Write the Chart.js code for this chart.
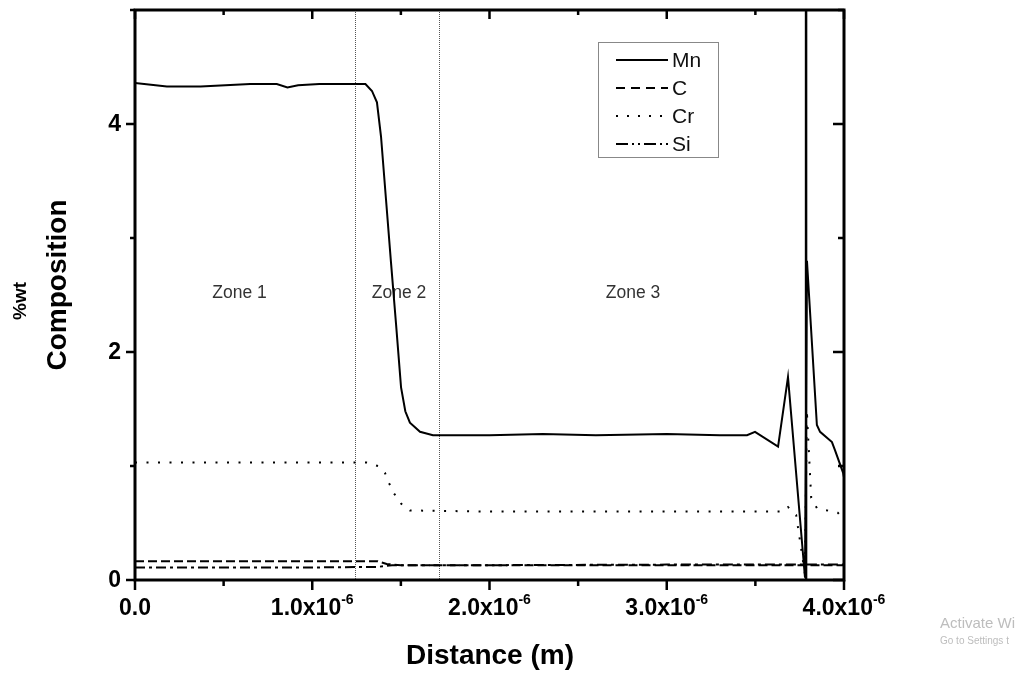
<!DOCTYPE html>
<html>
<head>
<meta charset="utf-8">
<script src="https://cdn.jsdelivr.net/npm/chart.js"></script>
<style>
html,body{margin:0;padding:0;background:#fff;}
#wrap{width:1019px;height:674px;}
</style>
</head>
<body>
<div id="wrap"><canvas id="c" width="1019" height="674"></canvas></div>
<script>
// Distances in micrometres (axis labelled in metres: n.0x10^-6)
const mnX = [0, 0.18, 0.37, 0.65, 0.80, 0.86, 0.92, 1.04, 1.30, 1.337, 1.365, 1.388, 1.416, 1.444, 1.473, 1.501, 1.525, 1.551, 1.608, 1.681, 2.0, 2.3, 2.6, 3.0, 3.3, 3.453, 3.498, 3.628, 3.684, 3.780, 3.791, 3.847, 3.865, 3.932, 3.949, 3.995, 4.0];
const mnY = [4.36, 4.33, 4.33, 4.35, 4.35, 4.32, 4.34, 4.35, 4.35, 4.29, 4.19, 3.89, 3.34, 2.79, 2.24, 1.69, 1.48, 1.38, 1.30, 1.27, 1.27, 1.28, 1.27, 1.28, 1.27, 1.27, 1.30, 1.17, 1.78, 0.02, 2.80, 1.36, 1.30, 1.21, 1.14, 0.94, 0.90];

const cX = [0, 1.0, 1.37, 1.42, 1.50, 2.0, 3.0, 3.7, 4.0];
const cY = [0.165, 0.165, 0.165, 0.14, 0.13, 0.13, 0.13, 0.13, 0.13];

const crX = [0, 0.5, 1.0, 1.306, 1.371, 1.410, 1.433, 1.461, 1.501, 1.551, 2.0, 2.5, 3.0, 3.5, 3.65, 3.684, 3.73, 3.78, 3.79, 3.815, 3.847, 3.965, 4.0];
const crY = [1.03, 1.03, 1.03, 1.03, 1.00, 0.94, 0.85, 0.76, 0.67, 0.61, 0.60, 0.60, 0.60, 0.60, 0.60, 0.64, 0.57, 0.05, 1.49, 0.72, 0.63, 0.59, 0.53];

const siX = [0, 1.0, 1.37, 1.45, 2.0, 3.0, 3.7, 4.0];
const siY = [0.11, 0.11, 0.115, 0.13, 0.13, 0.135, 0.135, 0.135];

const seriesNames = ['Mn', 'C', 'Cr', 'Si'];
const xTickValues = [0, 1, 2, 3, 4];
const xTickLabels = ['0.0', '1.0x10', '2.0x10', '3.0x10', '4.0x10'];
const xTickExp = ['', '-6', '-6', '-6', '-6'];
const yTickValues = [0, 2, 4];
const yTickLabels = ['0', '2', '4'];
const zoneBoundaries = [1.24, 1.715];
const interfaceLine = [3.786];
const zoneNames = ['Zone 1', 'Zone 2', 'Zone 3'];
const zoneLabelX = [0.59, 1.49, 2.81];
const zoneLabelY = [2.52, 2.52, 2.52];

function pts(xs, ys){ return xs.map((x,i)=>({x:x, y:ys[i]})); }

const FONT = '"Liberation Sans", Arial, sans-serif';

const drawPlugin = {
  id: 'custom',
  beforeDatasetsDraw(chart){
    const ctx = chart.ctx, xs = chart.scales.x, ys = chart.scales.y, a = chart.chartArea;
    ctx.save();
    ctx.strokeStyle = '#555';
    ctx.lineWidth = 1;
    ctx.setLineDash([1,1]);
    zoneBoundaries.forEach(v=>{
      const px = Math.round(xs.getPixelForValue(v))+0.5;
      ctx.beginPath(); ctx.moveTo(px, a.top); ctx.lineTo(px, a.bottom); ctx.stroke();
    });
    ctx.setLineDash([]);
    ctx.strokeStyle = '#000';
    ctx.lineWidth = 2.5;
    interfaceLine.forEach(v=>{
      const px = xs.getPixelForValue(v);
      ctx.beginPath(); ctx.moveTo(px, a.top); ctx.lineTo(px, a.bottom); ctx.stroke();
    });
    ctx.fillStyle = '#333';
    ctx.font = '17.5px ' + FONT;
    ctx.textAlign = 'center';
    ctx.textBaseline = 'middle';
    zoneNames.forEach((n,i)=>{
      ctx.fillText(n, xs.getPixelForValue(zoneLabelX[i]), ys.getPixelForValue(zoneLabelY[i]));
    });
    ctx.restore();
  },
  afterDraw(chart){
    const ctx = chart.ctx, xs = chart.scales.x, ys = chart.scales.y, a = chart.chartArea;
    ctx.save();
    ctx.strokeStyle = '#000';
    ctx.lineWidth = 3;
    ctx.setLineDash([]);
    ctx.strokeRect(a.left, a.top, a.right - a.left, a.bottom - a.top);
    ctx.lineWidth = 2.5;
    for (let v = 0; v <= 4.0001; v += 0.5){
      const px = xs.getPixelForValue(v);
      const major = Math.abs(v - Math.round(v)) < 1e-6;
      const L = major ? 10 : 6;
      ctx.beginPath();
      ctx.moveTo(px, a.bottom); ctx.lineTo(px, a.bottom + L);
      ctx.moveTo(px, a.top); ctx.lineTo(px, a.top + (major ? 9 : 5));
      ctx.stroke();
    }
    for (let v = 0; v <= 5.0001; v += 1){
      const py = ys.getPixelForValue(v);
      const major = (Math.round(v) % 2) === 0;
      const L = major ? 9 : 5;
      ctx.beginPath();
      ctx.moveTo(a.left, py); ctx.lineTo(a.left - L, py);
      ctx.moveTo(a.right, py); ctx.lineTo(a.right - (major ? 11 : 6), py);
      ctx.stroke();
    }
    ctx.fillStyle = '#000';
    ctx.textBaseline = 'alphabetic';
    ctx.textAlign = 'left';
    xTickValues.forEach((v,i)=>{
      ctx.font = 'bold 23px ' + FONT;
      const w1 = ctx.measureText(xTickLabels[i]).width;
      ctx.font = 'bold 14px ' + FONT;
      const w2 = xTickExp[i] ? ctx.measureText(xTickExp[i]).width : 0;
      const cx = xs.getPixelForValue(v);
      const x0 = cx - (w1 + w2)/2;
      ctx.font = 'bold 23px ' + FONT;
      ctx.fillText(xTickLabels[i], x0, 615);
      if (xTickExp[i]){
        ctx.font = 'bold 14px ' + FONT;
        ctx.fillText(xTickExp[i], x0 + w1, 604);
      }
    });
    ctx.font = 'bold 23px ' + FONT;
    ctx.textAlign = 'right';
    ctx.textBaseline = 'middle';
    yTickValues.forEach((v,i)=>{
      ctx.fillText(yTickLabels[i], 121, ys.getPixelForValue(v) + 1);
    });
    ctx.textAlign = 'center';
    ctx.textBaseline = 'middle';
    ctx.font = 'bold 28px ' + FONT;
    ctx.fillText('Distance (m)', 490, 656);
    ctx.save();
    ctx.translate(58, 285);
    ctx.rotate(-Math.PI/2);
    ctx.fillText('Composition', 0, 0);
    ctx.restore();
    ctx.save();
    ctx.translate(21, 301);
    ctx.rotate(-Math.PI/2);
    ctx.font = 'bold 19px ' + FONT;
    ctx.fillText('%wt', 0, 0);
    ctx.restore();
    const lx = 598, ly = 42, lw = 120, lh = 115;
    ctx.fillStyle = '#fff';
    ctx.fillRect(lx, ly, lw, lh);
    ctx.strokeStyle = '#888';
    ctx.lineWidth = 1;
    ctx.strokeRect(lx + 0.5, ly + 0.5, lw, lh);
    const rows = [60, 88, 116, 144];
    chart.data.datasets.forEach((ds,i)=>{
      ctx.strokeStyle = '#000';
      ctx.lineWidth = ds.borderWidth;
      ctx.setLineDash(ds.legendDash || []);
      ctx.lineCap = 'butt';
      ctx.beginPath();
      ctx.moveTo(616, rows[i]); ctx.lineTo(668, rows[i]);
      ctx.stroke();
      ctx.setLineDash([]);
      ctx.fillStyle = '#111';
      ctx.font = '21px ' + FONT;
      ctx.textAlign = 'left';
      ctx.textBaseline = 'middle';
      ctx.fillText(ds.label, 672, rows[i] + 1);
    });
    ctx.fillStyle = '#bdbdbd';
    ctx.textAlign = 'left';
    ctx.textBaseline = 'alphabetic';
    ctx.font = '15px ' + FONT;
    ctx.fillText('Activate Wi', 940, 628);
    ctx.font = '10px ' + FONT;
    ctx.fillText('Go to Settings t', 940, 644);
    ctx.restore();
  }
};

new Chart(document.getElementById('c'), {
  type: 'line',
  data: {
    datasets: [
      {label: seriesNames[0], data: pts(mnX, mnY), borderColor:'#000', borderWidth:2, pointRadius:0, tension:0, legendDash: []},
      {label: seriesNames[1], data: pts(cX, cY), borderColor:'#000', borderWidth:2, pointRadius:0, tension:0, borderDash:[9,4], legendDash:[9,6]},
      {label: seriesNames[2], data: pts(crX, crY), borderColor:'#000', borderWidth:2, pointRadius:0, tension:0, borderDash:[2,9.5], legendDash:[2,9]},
      {label: seriesNames[3], data: pts(siX, siY), borderColor:'#000', borderWidth:2, pointRadius:0, tension:0, borderDash:[10,4,3,4], legendDash:[12,4,2,4,2,4]}
    ]
  },
  options: {
    responsive: false,
    animation: false,
    devicePixelRatio: 1,
    layout: {padding: {left:135, right:175, top:10, bottom:94}},
    plugins: {legend:{display:false}, tooltip:{enabled:false}},
    scales: {
      x: {type:'linear', min:0, max:4, display:false},
      y: {type:'linear', min:0, max:5, display:false}
    }
  },
  plugins: [drawPlugin]
});
</script>
</body>
</html>
